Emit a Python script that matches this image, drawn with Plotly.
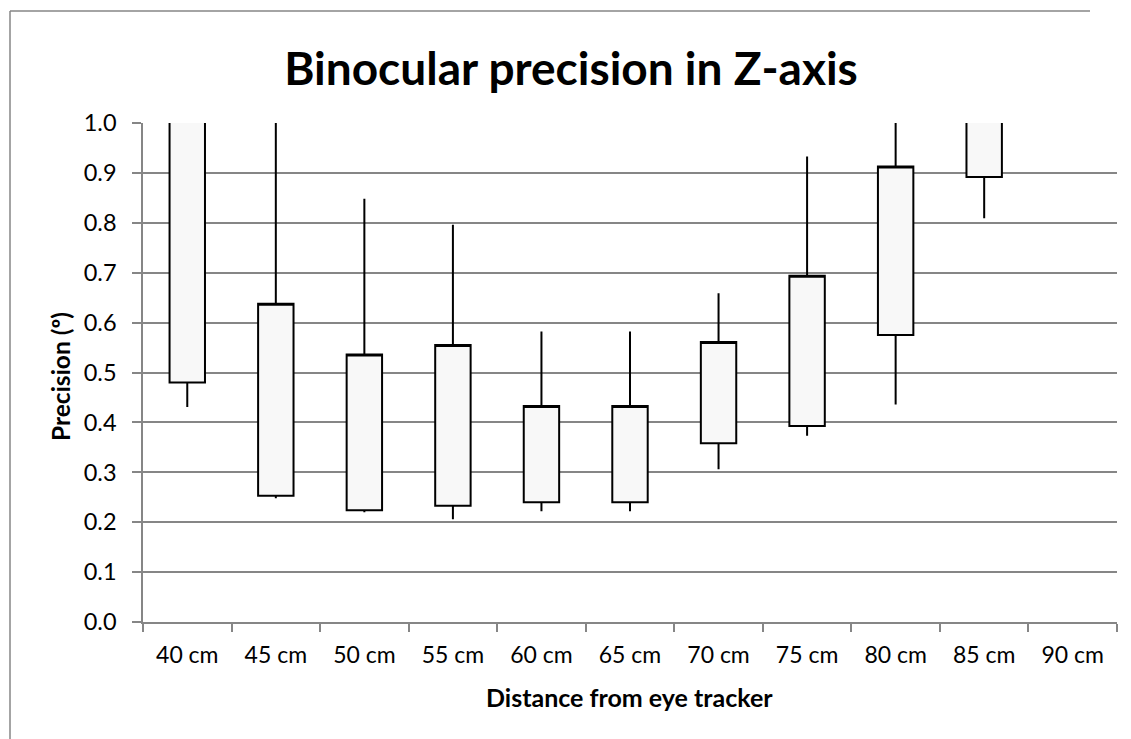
import plotly.graph_objects as go

# ---- data ----
categories = ["40 cm", "45 cm", "50 cm", "55 cm", "60 cm", "65 cm",
              "70 cm", "75 cm", "80 cm", "85 cm", "90 cm"]
dist_with_data = ["40 cm", "45 cm", "50 cm", "55 cm", "60 cm", "65 cm",
                  "70 cm", "75 cm", "80 cm", "85 cm"]
box_low = [0.480, 0.253, 0.224, 0.233, 0.240, 0.240, 0.358, 0.393, 0.575, 0.892]
box_high = [1.100, 0.638, 0.536, 0.555, 0.433, 0.433, 0.561, 0.694, 0.913, 1.100]
whisker_low = [0.431, 0.248, 0.220, 0.206, 0.222, 0.222, 0.306, 0.373, 0.436, 0.809]
whisker_high = [1.300, 1.100, 0.848, 0.796, 0.582, 0.582, 0.659, 0.933, 1.050, 1.200]
y_ticks = [0.0, 0.1, 0.2, 0.3, 0.4, 0.5, 0.6, 0.7, 0.8, 0.9, 1.0]

FONT = "Lato"
GRID = "#868686"

fig = go.Figure()
fig.add_trace(go.Candlestick(
    x=dist_with_data,
    open=box_low, close=box_high, low=whisker_low, high=whisker_high,
    increasing=dict(line=dict(color="black", width=2), fillcolor="#F8F8F8"),
    decreasing=dict(line=dict(color="black", width=2), fillcolor="#F8F8F8"),
    whiskerwidth=0,
    showlegend=False,
))

# page body adds an 8px margin; compensate so the plot lands where the reference has it
OFF = 8
W, H = 1131 - OFF, 739 - OFF
PL, PR, PT, PB = 143, 1117, 123, 622        # plot area in reference pixels
L, T = PL - OFF, PT - OFF
R, B = (W + OFF) - PR, (H + OFF) - PB
pw, ph = PR - PL, PB - PT

def px_x(p):
    return (p - PL) / pw

def px_y(p):
    return (PB - p) / ph

fig.update_layout(
    width=W, height=H,
    margin=dict(l=L, r=R, t=T, b=B, pad=0),
    paper_bgcolor="white", plot_bgcolor="white",
    boxgap=0.6, boxgroupgap=0,
    font=dict(family=FONT, color="black"),
    title=dict(text="<b>Binocular precision in Z-axis</b>",
               font=dict(family=FONT, size=46, color="black"),
               xref="container", yref="container",
               x=(571 - OFF) / W, y=1 - (69 - OFF) / H, xanchor="center", yanchor="middle"),
    xaxis=dict(
        type="category", categoryorder="array", categoryarray=categories,
        range=[-0.5, len(categories) - 0.5],
        rangeslider=dict(visible=False),
        showgrid=False, showline=True, linecolor=GRID, linewidth=1.5,
        ticks="outside", tickson="boundaries", ticklen=8, tickcolor=GRID, tickwidth=1.5,
        tickfont=dict(family=FONT, size=23, color="black"),
        ticklabelstandoff=12,
        fixedrange=True,
    ),
    yaxis=dict(
        range=[0, 1], tickvals=y_ticks, tickformat=".1f",
        showgrid=True, gridcolor=GRID, gridwidth=1.5,
        zeroline=False,
        showline=True, linecolor=GRID, linewidth=1.5,
        ticks="outside", ticklen=9, tickcolor=GRID, tickwidth=1.5,
        tickfont=dict(family=FONT, size=23.5, color="black"),
        ticklabelstandoff=11,
        fixedrange=True,
    ),
    annotations=[
        dict(text="<b>Distance from eye tracker</b>", xref="paper", yref="paper",
             x=px_x(629), y=px_y(697), xanchor="center", yanchor="middle", showarrow=False,
             font=dict(family=FONT, size=25, color="black")),
        dict(text="<b>Precision (º)</b>", xref="paper", yref="paper",
             x=px_x(60), y=px_y(377), xanchor="center", yanchor="middle", showarrow=False,
             textangle=-90, font=dict(family=FONT, size=24.5, color="black")),
    ],
    shapes=[
        dict(type="line", xref="paper", yref="paper",
             x0=px_x(10), x1=px_x(10), y0=px_y(11), y1=px_y(760),
             line=dict(color=GRID, width=1.5), layer="below"),
        dict(type="line", xref="paper", yref="paper",
             x0=px_x(10), x1=px_x(1090), y0=px_y(11), y1=px_y(11),
             line=dict(color=GRID, width=1.5), layer="below"),
    ],
)

fig.write_html("out.html", config={"displayModeBar": False})
